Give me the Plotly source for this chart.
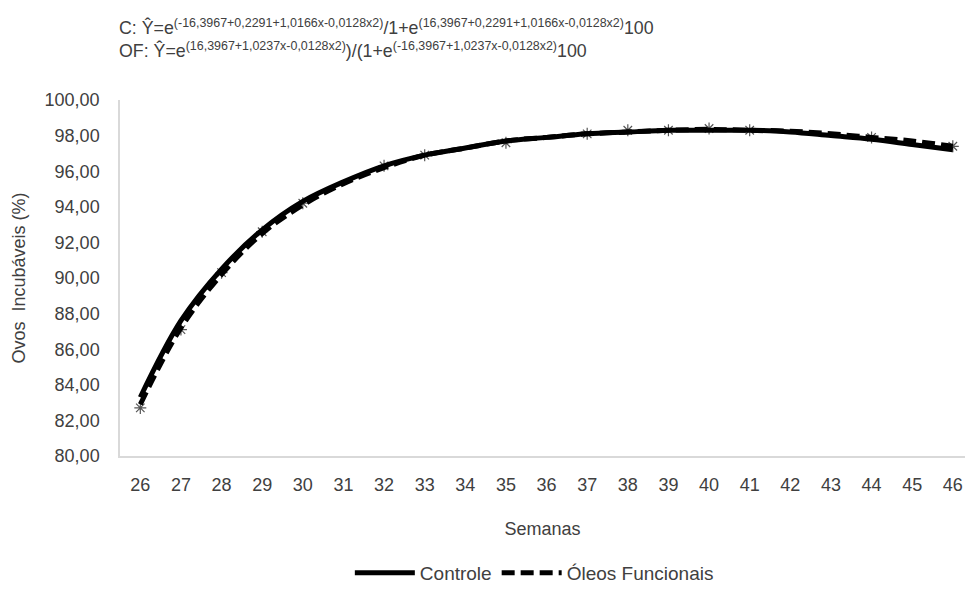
import plotly.graph_objects as go

semanas = list(range(26, 47))
controle = [83.3, 87.6, 90.5, 92.7, 94.3, 95.4, 96.3, 96.9, 97.3, 97.7, 97.9,
            98.1, 98.2, 98.3, 98.3, 98.3, 98.2, 98.0, 97.8, 97.5, 97.2]
oleos = [82.9, 87.2, 90.2, 92.5, 94.1, 95.3, 96.2, 96.9, 97.3, 97.7, 97.9,
         98.1, 98.2, 98.3, 98.35, 98.3, 98.25, 98.1, 97.9, 97.7, 97.4]
obs_semanas = [26, 27, 28, 29, 30, 32, 33, 35, 37, 38, 39, 40, 41, 44, 46]
obs_valores = [82.7, 87.1, 90.3, 92.6, 94.2, 96.3, 96.9, 97.6, 98.1, 98.3, 98.3, 98.4, 98.3, 97.9, 97.4]
yticks = [80, 82, 84, 86, 88, 90, 92, 94, 96, 98, 100]

FONT = "Liberation Sans, Arial, sans-serif"
TXT = "#404040"

fig = go.Figure()
fig.add_trace(go.Scatter(x=obs_semanas, y=obs_valores, mode="markers", showlegend=False,
                         marker=dict(symbol="asterisk-open", size=10, color="#555555",
                                     line=dict(width=1.2, color="#555555")),
                         hoverinfo="skip"))
fig.add_trace(go.Scatter(x=semanas, y=controle, mode="lines", name="Controle",
                         line=dict(color="black", width=5, shape="spline")))
fig.add_trace(go.Scatter(x=semanas, y=oleos, mode="lines", name="Óleos Funcionais",
                         line=dict(color="black", width=5, dash="13px,6px", shape="spline")))

fig.update_layout(
    width=965, height=592,
    margin=dict(l=120, r=0, t=100, b=136),
    plot_bgcolor="white", paper_bgcolor="white",
    separators=",.",
    font=dict(family=FONT, size=18, color=TXT),
    showlegend=True,
    legend=dict(orientation="h", x=0.272, xanchor="left", y=-0.382, yanchor="bottom",
                font=dict(size=19, color=TXT), itemwidth=60, traceorder="normal"),
    xaxis=dict(range=[25.5, 46.3], tickmode="array", tickvals=semanas,
               showgrid=False, zeroline=False, showline=True, linecolor="#d9d9d9", linewidth=1.5,
               ticks="outside", ticklen=12, tickcolor="rgba(0,0,0,0)",
               tickfont=dict(size=18, color=TXT),
               title=dict(text="Semanas", font=dict(size=18, color=TXT), standoff=28)),
    yaxis=dict(range=[80, 100], tickmode="array", tickvals=yticks, tickformat=".2f",
               showgrid=False, zeroline=False, showline=True, linecolor="#d9d9d9", linewidth=1.5,
               ticks="outside", ticklen=15, tickcolor="rgba(0,0,0,0)",
               tickfont=dict(size=18, color=TXT),
               title=dict(text="Ovos  Incubáveis (%)", font=dict(size=18, color=TXT), standoff=14)),
)

eq1 = ("C: Ŷ=e<sup>(-16,3967+0,2291+1,0166x-0,0128x2)</sup>/1+e"
       "<sup>(16,3967+0,2291+1,0166x-0,0128x2)</sup>100")
eq2 = ("OF: Ŷ=e<sup>(16,3967+1,0237x-0,0128x2)</sup>)/(1+e"
       "<sup>(-16,3967+1,0237x-0,0128x2)</sup>100")
fig.add_annotation(text=eq1, xref="paper", yref="paper", x=-0.003, y=1.205,
                   xanchor="left", yanchor="middle", showarrow=False,
                   font=dict(size=17.8, color=TXT, family=FONT))
fig.add_annotation(text=eq2, xref="paper", yref="paper", x=-0.003, y=1.14,
                   xanchor="left", yanchor="middle", showarrow=False,
                   font=dict(size=17.8, color=TXT, family=FONT))

fig.write_html("out.html")
